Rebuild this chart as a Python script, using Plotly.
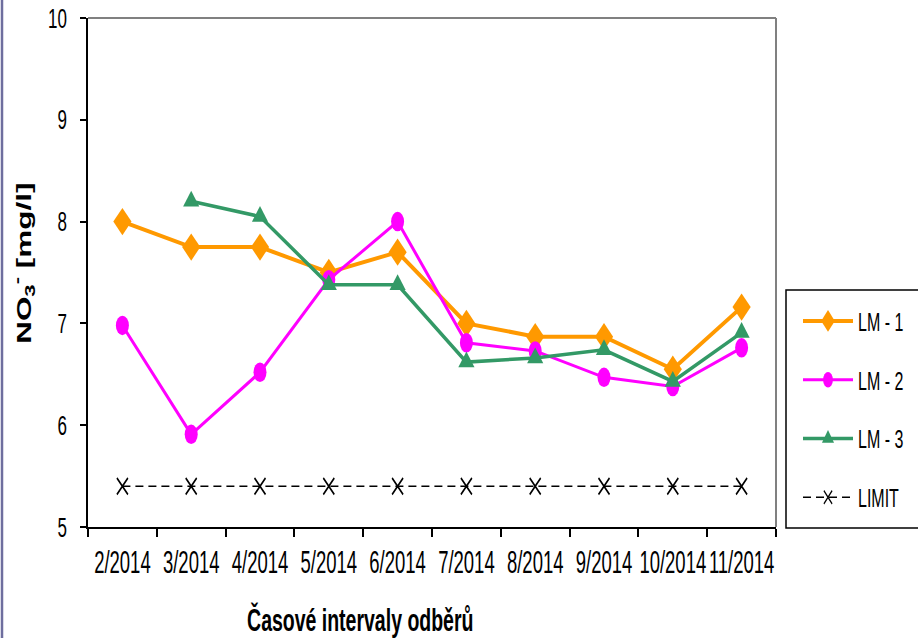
import plotly.graph_objects as go

# Sampling periods
months = ["2/2014", "3/2014", "4/2014", "5/2014", "6/2014",
          "7/2014", "8/2014", "9/2014", "10/2014", "11/2014"]

# Nitrate concentrations [mg/l] at three monitoring points
lm1 = [8.0, 7.75, 7.75, 7.5, 7.7, 7.0, 6.87, 6.87, 6.55, 7.16]
lm2 = [6.98, 5.91, 6.52, 7.43, 8.0, 6.81, 6.73, 6.47, 6.38, 6.76]
lm3 = [None, 8.2, 8.05, 7.38, 7.38, 6.62, 6.66, 6.74, 6.43, 6.91]
limit = [5.4] * len(months)

series_names = ["LM - 1", "LM - 2", "LM - 3", "LIMIT"]

FONT = "Liberation Sans, Arial, sans-serif"

fig = go.Figure()

fig.add_trace(go.Scatter(
    x=months, y=lm1, name=series_names[0], legendgroup="a",
    mode="lines+markers",
    line=dict(color="#FF9900", width=4),
    marker=dict(symbol="diamond", size=14, color="#FF9900", line=dict(width=0)),
))
fig.add_trace(go.Scatter(
    x=months, y=lm2, name=series_names[1], legendgroup="b",
    mode="lines+markers",
    line=dict(color="#FF00FF", width=3),
    marker=dict(symbol="circle", size=13, color="#FF00FF", line=dict(width=0)),
))
fig.add_trace(go.Scatter(
    x=months, y=lm3, name=series_names[2], legendgroup="c",
    mode="lines+markers",
    line=dict(color="#339966", width=3.5),
    marker=dict(symbol="triangle-up", size=14, color="#339966", line=dict(width=0)),
))
fig.add_trace(go.Scatter(
    x=months, y=limit, name=series_names[3], legendgroup="d",
    mode="lines+markers",
    line=dict(color="black", width=1.5, dash="8px,5px"),
    marker=dict(symbol="x-thin-open", size=11, color="black",
                line=dict(width=1.5, color="black")),
))

L, R, T, B = 88, 142, 18, 111
W, H = 918, 638
pw = W - L - R
ph = H - T - B


def px_x(x):
    return (x - L) / pw


def px_y(y):
    return (H - B - y) / ph


fig.update_layout(
    width=W, height=H,
    margin=dict(l=L, r=R, t=T, b=B, autoexpand=False),
    paper_bgcolor="white",
    plot_bgcolor="white",
    showlegend=True,
    legend=dict(
        x=px_x(798), y=px_y(304),
        xanchor="left", yanchor="top",
        borderwidth=0,
        bgcolor="rgba(0,0,0,0)",
        font=dict(family=FONT, size=16, color="black"),
        tracegroupgap=35,
        itemwidth=50,
    ),
    xaxis=dict(
        type="category",
        range=[-0.5, len(months) - 0.5],
        tickson="boundaries",
        ticks="outside", ticklen=8, tickwidth=1.5, tickcolor="black",
        showline=True, linecolor="black", linewidth=1.5,
        showgrid=False, zeroline=False,
        tickangle=0,
        tickfont=dict(family=FONT, size=18.5, color="black"),
        ticklabelstandoff=18,
    ),
    yaxis=dict(
        range=[5, 10], dtick=1,
        ticks="outside", ticklen=6, tickwidth=1.5, tickcolor="black",
        showline=True, linecolor="black", linewidth=1.5,
        showgrid=False, zeroline=False,
        tickfont=dict(family=FONT, size=17, color="black"),
        ticklabelstandoff=10,
    ),
)

# Grey plot-area frame on top and right
fig.add_shape(type="line", xref="paper", yref="paper", x0=0, x1=1, y0=1, y1=1,
              line=dict(color="#808080", width=2))
fig.add_shape(type="line", xref="paper", yref="paper", x0=1, x1=1, y0=0, y1=1,
              line=dict(color="#808080", width=2))
# Outer chart border on the left
fig.add_shape(type="line", xref="paper", yref="paper",
              x0=px_x(2), x1=px_x(2), y0=px_y(H + 2), y1=px_y(-2),
              line=dict(color="#6E6E9E", width=2.5))
# Legend frame, running past the right edge of the chart
fig.add_shape(type="rect", xref="paper", yref="paper",
              x0=px_x(786), x1=px_x(940), y0=px_y(528), y1=px_y(290),
              line=dict(color="black", width=1.5), fillcolor="white", layer="below")

# Axis titles
fig.add_annotation(
    text="<b>NO<sub>3</sub><sup>-</sup> [mg/l]</b>",
    xref="paper", yref="paper",
    x=px_x(23), y=px_y(263),
    xanchor="center", yanchor="middle",
    textangle=-90, showarrow=False,
    font=dict(family=FONT, size=21, color="black"),
)
fig.add_annotation(
    text="<b>Časové intervaly odběrů</b>",
    xref="paper", yref="paper",
    x=px_x(360), y=px_y(619),
    xanchor="center", yanchor="middle",
    showarrow=False,
    font=dict(family=FONT, size=19.5, color="black"),
)

# Tall, narrow lettering and markers: stretch text about its own centre
# across the reading direction, and markers vertically about their anchor.
stretch_js = """
var gd = document.getElementById('{plot_id}');
function appendTransform(el, suffix) {
  var tr = el.getAttribute('transform') || '';
  if (tr.slice(-suffix.length) !== suffix) {
    el.setAttribute('transform', tr + suffix);
  }
}
function stretchText(t, sx, sy) {
  var b = t.getBBox();
  var cx = b.x + b.width / 2, cy = b.y + b.height / 2;
  appendTransform(t, ' translate(' + cx + ',' + cy + ') scale(' + sx + ',' + sy +
                     ') translate(' + (-cx) + ',' + (-cy) + ')');
}
function applyStretch() {
  gd.querySelectorAll('.xtick text, .ytick text, .legendtext').forEach(function (t) {
    stretchText(t, 1, 1.65);
  });
  gd.querySelectorAll('.annotation-text').forEach(function (t) {
    var txt = t.textContent || '';
    if (txt.indexOf('NO') === 0) { stretchText(t, 1.5, 1); }
    else { stretchText(t, 1, 1.6); }
  });
  gd.querySelectorAll('.scatterlayer path.point').forEach(function (p) {
    appendTransform(p, ' scale(1,1.5)');
  });
  gd.querySelectorAll('.legendpoints path.scatterpts').forEach(function (p) {
    appendTransform(p, ' scale(0.75,1.2)');
  });
}
applyStretch();
gd.on('plotly_afterplot', applyStretch);
"""

fig.write_html("out.html", post_script=stretch_js)
